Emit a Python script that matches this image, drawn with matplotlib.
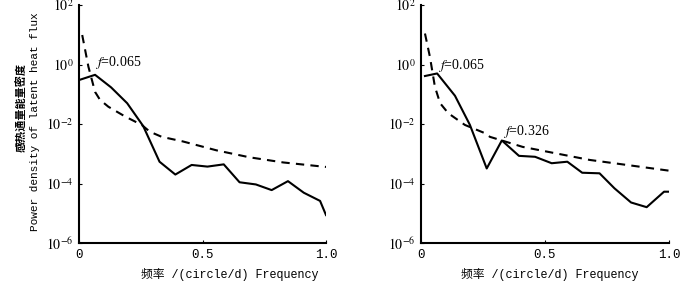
import matplotlib
matplotlib.use("Agg")
import matplotlib.pyplot as plt
import numpy as np

# solid: power spectrum, dashed: red-noise reference
freq_l = [0.0, 0.065, 0.13, 0.195, 0.26, 0.326, 0.39, 0.456, 0.52, 0.586,
          0.65, 0.716, 0.78, 0.846, 0.91, 0.976, 1.0]
psd_l = [0.3, 0.45, 0.17, 0.05, 0.0085, 5.4e-4, 2.0e-4, 4.2e-4, 3.7e-4, 4.4e-4,
         1.1e-4, 9.3e-5, 6.0e-5, 1.2e-4, 4.9e-5, 2.6e-5, 8.7e-6]
red_x_l = [0.013, 0.038, 0.065, 0.085, 0.119, 0.186, 0.254, 0.287, 0.335,
           0.42, 0.557, 0.69, 0.827, 1.0]
red_l = [9.8, 0.85, 0.12, 0.065, 0.038, 0.018, 0.0093, 0.0055, 0.0037,
         0.0026, 0.0013, 7.6e-4, 5.1e-4, 3.6e-4]

freq_r = [0.016, 0.065, 0.137, 0.197, 0.265, 0.326, 0.395, 0.46, 0.527, 0.59,
          0.65, 0.72, 0.78, 0.847, 0.91, 0.98, 1.0]
psd_r = [0.41, 0.5, 0.089, 0.0094, 3.2e-4, 2.8e-3, 8.5e-4, 7.9e-4, 4.8e-4, 5.4e-4,
         2.3e-4, 2.2e-4, 6.9e-5, 2.3e-5, 1.6e-5, 5.3e-5, 5.3e-5]
red_x_r = [0.016, 0.036, 0.056, 0.077, 0.11, 0.177, 0.258, 0.278, 0.41,
           0.68, 1.0]
red_r = [11.0, 1.8, 0.18, 0.05, 0.023, 0.0093, 0.0049, 0.0037, 0.0017,
         6.2e-4, 2.7e-4]

yticks = [1e-6, 1e-4, 1e-2, 1e0, 1e2]
ytick_labels = [r'$10^{-6}$', r'$10^{-4}$', r'$10^{-2}$', r'$10^{0}$', r'$10^{2}$']
xticks = [0, 0.5, 1.0]
xtick_labels = ['0', '0.5', '1.0']

plt.rcParams['mathtext.fontset'] = 'stix'
mono = ['Liberation Mono', 'Noto Sans CJK SC']

fig = plt.figure(figsize=(7.0, 2.84), dpi=100)
ax_l = fig.add_axes([79 / 700, 1 - 243 / 284, 247 / 700, 238 / 284])
ax_r = fig.add_axes([421 / 700, 1 - 243 / 284, 248 / 700, 238 / 284])

for ax, fx, fy, rx, ry, lx in [(ax_l, freq_l, psd_l, red_x_l, red_l, 0.61),
                               (ax_r, freq_r, psd_r, red_x_r, red_r, 0.52)]:
    ax.plot(fx, fy, color='black', linewidth=1.5)
    ax.plot(rx, ry, color='black', linewidth=1.5, linestyle=(0, (4, 3)))
    ax.set_yscale('log')
    ax.set_xlim(0, 1.0)
    ax.set_ylim(1e-6, 1e2)
    ax.set_yticks(yticks)
    ax.set_yticklabels(ytick_labels, fontsize=10)
    ax.minorticks_off()
    ax.set_xticks(xticks)
    ax.set_xticklabels(xtick_labels, fontsize=9, family=mono)
    ax.tick_params(direction='in', length=2, width=0.8, pad=4)
    for s in ['top', 'right']:
        ax.spines[s].set_visible(False)
    for s in ['left', 'bottom']:
        ax.spines[s].set_linewidth(1.5)
    ax.set_xlabel('频率 /(circle/d) Frequency', fontsize=8.5, family=mono)
    ax.xaxis.set_label_coords(lx, -0.105)

ax_l.text(0.065, 1.2, r'$f$=0.065', fontsize=10, family='Liberation Serif',
          va='center', ha='left')
ax_r.text(0.069, 0.9, r'$f$=0.065', fontsize=10, family='Liberation Serif',
          va='center', ha='left')
ax_r.text(0.33, 0.0054, r'$f$=0.326', fontsize=10, family='Liberation Serif',
          va='center', ha='left')

fig.text(22 / 700, 1 - 108 / 284, '感热通量能量密度', rotation=90, fontsize=8,
         fontweight='bold', family='Noto Sans CJK SC', ha='center', va='center')
fig.text(35 / 700, 1 - 122 / 284, 'Power density of latent heat flux',
         rotation=90, fontsize=8, family='Liberation Mono',
         ha='center', va='center')

fig.savefig('out.png', dpi=100)
